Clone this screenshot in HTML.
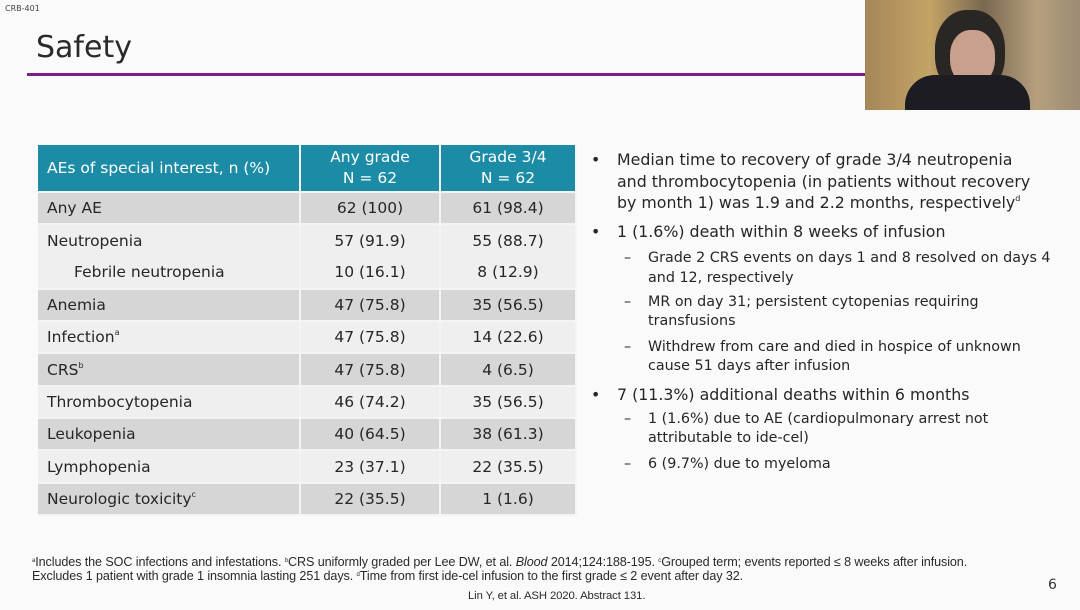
<!DOCTYPE html>
<html><head><meta charset="utf-8"><style>
*{margin:0;padding:0;box-sizing:border-box}
body{width:1080px;height:610px;background:#fafafa;font-family:"DejaVu Sans","Liberation Sans",sans-serif;color:#262626;position:relative;overflow:hidden}
.a{position:absolute;white-space:nowrap}
table{position:absolute;left:38px;top:145px;width:539px;border-collapse:collapse;font-size:15.5px;color:#262626}
td,th{border-right:2px solid #f4f4f4;border-bottom:2px solid #f4f4f4;padding:0}
th{background:#1b8ba6;color:#fff;font-weight:normal;height:47px;line-height:21px}
td{height:32.3px;text-align:center}
td:first-child{text-align:left;padding-left:9px}
.g td{background:#d6d6d6}.l td{background:#efefef}
sup{font-size:8px;vertical-align:7px}
.b{font-size:15.8px}.s{font-size:14.3px}
.f{font-size:12.6px;font-family:"Liberation Sans",sans-serif;color:#2a2a2a;letter-spacing:-0.1px}
.f sup{font-size:6px;vertical-align:4px}
</style></head><body>
<div class="a" style="left:5px;top:4px;font-size:8px;color:#444">CRB-401</div>
<div class="a" style="left:36px;top:30px;font-size:30px;color:#2a2a2a">Safety</div>
<div class="a" style="left:27px;top:73px;width:840px;height:3px;background:#7b1e83"></div>
<div class="a" style="left:865px;top:0;width:215px;height:110px;background:linear-gradient(90deg,#a5865a 0%,#c3a466 30%,#7a6850 55%,#b59f7e 80%,#9c8c74 100%)"></div>
<div class="a" style="left:935px;top:10px;width:70px;height:85px;border-radius:45%;background:#2a2624"></div>
<div class="a" style="left:950px;top:30px;width:45px;height:55px;border-radius:45%;background:#c9a08c"></div>
<div class="a" style="left:905px;top:75px;width:125px;height:35px;border-radius:30px 30px 0 0;background:#1c1c22"></div>
<table>
<tr><th style="text-align:left;padding-left:9px;width:262px">AEs of special interest, n (%)</th><th style="width:140px">Any grade<br>N = 62</th><th>Grade 3/4<br>N = 62</th></tr>
<tr class="g"><td>Any AE</td><td>62 (100)</td><td>61 (98.4)</td></tr>
<tr class="l"><td style="border-bottom:0">Neutropenia</td><td style="border-bottom:0">57 (91.9)</td><td style="border-bottom:0">55 (88.7)</td></tr>
<tr class="l"><td style="padding-left:36px">Febrile neutropenia</td><td>10 (16.1)</td><td>8 (12.9)</td></tr>
<tr class="g"><td>Anemia</td><td>47 (75.8)</td><td>35 (56.5)</td></tr>
<tr class="l"><td>Infection<sup>a</sup></td><td>47 (75.8)</td><td>14 (22.6)</td></tr>
<tr class="g"><td>CRS<sup>b</sup></td><td>47 (75.8)</td><td>4 (6.5)</td></tr>
<tr class="l"><td>Thrombocytopenia</td><td>46 (74.2)</td><td>35 (56.5)</td></tr>
<tr class="g"><td>Leukopenia</td><td>40 (64.5)</td><td>38 (61.3)</td></tr>
<tr class="l"><td>Lymphopenia</td><td>23 (37.1)</td><td>22 (35.5)</td></tr>
<tr class="g"><td>Neurologic toxicity<sup>c</sup></td><td>22 (35.5)</td><td>1 (1.6)</td></tr>
</table>
<div class="a b" style="left:591px;top:150px">•</div>
<div class="a b" style="left:617px;top:150px">Median time to recovery of grade 3/4 neutropenia</div>
<div class="a b" style="left:617px;top:172px">and thrombocytopenia (in patients without recovery</div>
<div class="a b" style="left:617px;top:193px">by month 1) was 1.9 and 2.2 months, respectively<sup>d</sup></div>
<div class="a b" style="left:591px;top:222px">•</div>
<div class="a b" style="left:617px;top:222px">1 (1.6%) death within 8 weeks of infusion</div>
<div class="a s" style="left:624px;top:250px">–</div>
<div class="a s" style="left:648px;top:250px">Grade 2 CRS events on days 1 and 8 resolved on days 4</div>
<div class="a s" style="left:648px;top:270px">and 12, respectively</div>
<div class="a s" style="left:624px;top:294px">–</div>
<div class="a s" style="left:648px;top:294px">MR on day 31; persistent cytopenias requiring</div>
<div class="a s" style="left:648px;top:313px">transfusions</div>
<div class="a s" style="left:624px;top:339px">–</div>
<div class="a s" style="left:648px;top:339px">Withdrew from care and died in hospice of unknown</div>
<div class="a s" style="left:648px;top:358px">cause 51 days after infusion</div>
<div class="a b" style="left:591px;top:385px">•</div>
<div class="a b" style="left:617px;top:385px">7 (11.3%) additional deaths within 6 months</div>
<div class="a s" style="left:624px;top:411px">–</div>
<div class="a s" style="left:648px;top:411px">1 (1.6%) due to AE (cardiopulmonary arrest not</div>
<div class="a s" style="left:648px;top:430px">attributable to ide-cel)</div>
<div class="a s" style="left:624px;top:456px">–</div>
<div class="a s" style="left:648px;top:456px">6 (9.7%) due to myeloma</div>
<div class="a f" style="left:32px;top:555px"><sup>a</sup>Includes the SOC infections and infestations. <sup>b</sup>CRS uniformly graded per Lee DW, et al. <i>Blood</i> 2014;124:188-195. <sup>c</sup>Grouped term; events reported ≤ 8 weeks after infusion.</div>
<div class="a f" style="left:32px;top:569px">Excludes 1 patient with grade 1 insomnia lasting 251 days. <sup>d</sup>Time from first ide-cel infusion to the first grade ≤ 2 event after day 32.</div>
<div class="a f" style="left:468px;top:590px;font-size:11.3px">Lin Y, et al. ASH 2020. Abstract 131.</div>
<div class="a" style="left:1048px;top:577px;font-size:14px;color:#333">6</div>
</body></html>
